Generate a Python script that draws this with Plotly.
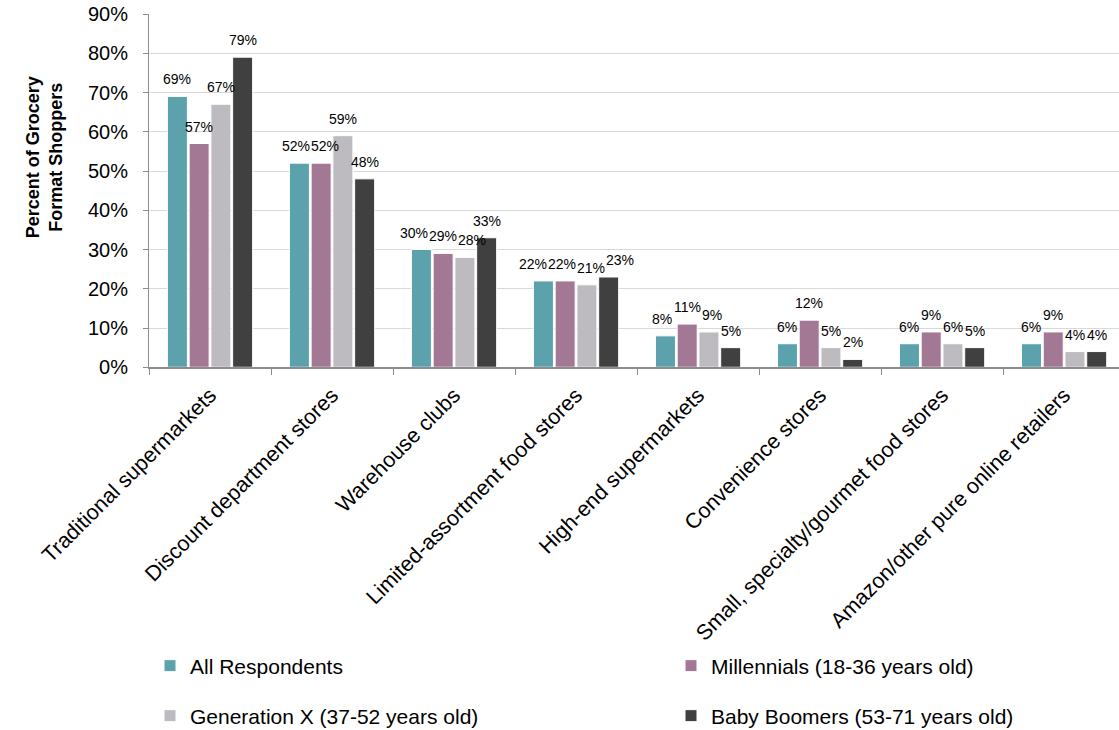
import plotly.graph_objects as go

# Grocery formats (x categories)
formats = [
    "Traditional supermarkets",
    "Discount department stores",
    "Warehouse clubs",
    "Limited-assortment food stores",
    "High-end supermarkets",
    "Convenience stores",
    "Small, specialty/gourmet food stores",
    "Amazon/other pure online retailers",
]

# Share of shoppers using each format, in percent
all_respondents = [69, 52, 30, 22, 8, 6, 6, 6]
millennials = [57, 52, 29, 22, 11, 12, 9, 9]
generation_x = [67, 59, 28, 21, 9, 5, 6, 4]
baby_boomers = [79, 48, 33, 23, 5, 2, 5, 4]

series_names = [
    "All Respondents",
    "Millennials (18-36 years old)",
    "Generation X (37-52 years old)",
    "Baby Boomers (53-71 years old)",
]
series_values = [all_respondents, millennials, generation_x, baby_boomers]
series_colors = ["#5BA2AD", "#A37895", "#BDBBC0", "#404040"]

y_ticks = [0, 10, 20, 30, 40, 50, 60, 70, 80, 90]

W, H = 1119, 730
FONT = "Liberation Sans, Arial, sans-serif"
LABEL_SIZE = 14

# plot geometry
M_L, M_R, M_T, M_B = 149, 0, 14, 361
X_RANGE = [-0.5, 7.45]
Y_RANGE = [0, 90]
BARGAP, BARGROUPGAP = 0.287, 0.08

plot_w = W - M_L - M_R
plot_h = H - M_T - M_B
cat_px = plot_w / (X_RANGE[1] - X_RANGE[0])
y_px = plot_h / (Y_RANGE[1] - Y_RANGE[0])
slot_px = cat_px * (1 - BARGAP) / len(series_values)

# one legend box per series, laid out in two columns
legend_ids = ["legend", "legend2", "legend3", "legend4"]
legend_pos = [(150, 666), (671, 666), (150, 716), (671, 716)]


def label_width(s, size):
    # approximate Arial advance widths for digits and the percent sign
    return sum((0.889 if ch == "%" else 0.556) * size for ch in s)


fig = go.Figure()
for name, vals, color, lid in zip(series_names, series_values, series_colors, legend_ids):
    fig.add_trace(go.Bar(
        x=formats,
        y=vals,
        name=name,
        marker=dict(color=color, line=dict(color="white", width=1)),
        cliponaxis=False,
        legend=lid,
    ))

# value labels above each bar; neighbours at similar heights are
# spread sideways so they do not run into one another
annotations = []
n = len(series_values)
for k, cat in enumerate(formats):
    vals = [s[k] for s in series_values]
    texts = [f"{v}%" for v in vals]
    widths = [label_width(t, LABEL_SIZE) for t in texts]
    heights = [v * y_px for v in vals]
    cx = [(i - (n - 1) / 2) * slot_px for i in range(n)]
    for _ in range(30):
        for i in range(n):
            for j in range(i + 1, n):
                if abs(heights[i] - heights[j]) < 14:
                    need = (widths[i] + widths[j]) / 2 + 1
                    d = cx[j] - cx[i]
                    if d < need:
                        push = (need - d) / 2
                        cx[i] -= push
                        cx[j] += push
    for i in range(n):
        annotations.append(dict(
            x=cat, y=vals[i], xref="x", yref="y",
            text=texts[i], showarrow=False,
            xanchor="center", yanchor="bottom",
            xshift=cx[i], yshift=7,
            font=dict(family=FONT, size=LABEL_SIZE, color="#000000"),
        ))

# y-axis title, set a little above the middle of the axis
annotations.append(dict(
    text="<b>Percent of Grocery<br>Format Shoppers</b>",
    xref="x domain", yref="y domain",
    x=(44 - M_L) / plot_w,
    y=(H - M_B - 158) / plot_h,
    xanchor="center", yanchor="middle",
    textangle=-90,
    showarrow=False,
    font=dict(family=FONT, size=18, color="#000000"),
))

layout_legends = {}
for lid, (px, py) in zip(legend_ids, legend_pos):
    layout_legends[lid] = dict(
        xref="container", yref="container",
        x=px / W, y=1 - py / H,
        xanchor="left", yanchor="middle",
        orientation="h",
        font=dict(family=FONT, size=21, color="#000000"),
        bgcolor="rgba(0,0,0,0)",
        itemwidth=30,
        borderwidth=0,
    )

fig.update_layout(
    width=W, height=H,
    margin=dict(l=M_L, r=M_R, t=M_T, b=M_B, pad=0),
    paper_bgcolor="white",
    plot_bgcolor="white",
    barmode="group",
    bargap=BARGAP,
    bargroupgap=BARGROUPGAP,
    font=dict(family=FONT, size=20, color="#000000"),
    showlegend=True,
    xaxis=dict(
        range=X_RANGE,
        tickangle=-45,
        tickfont=dict(family=FONT, size=21.5, color="#000000"),
        ticklabelstandoff=5,
        showline=True, linecolor="#8c8c8c", linewidth=2,
        ticks="outside", tickson="boundaries", ticklen=6, tickcolor="#8c8c8c",
        showgrid=False,
        fixedrange=True,
    ),
    yaxis=dict(
        range=Y_RANGE,
        tickvals=y_ticks,
        ticktext=[f"{v}%" for v in y_ticks],
        tickfont=dict(family=FONT, size=20, color="#000000"),
        ticklabelstandoff=11,
        showline=True, linecolor="#8c8c8c", linewidth=1,
        ticks="outside", ticklen=5, tickcolor="#8c8c8c",
        showgrid=True, gridcolor="#d9d9d9", gridwidth=1,
        zeroline=False,
    ),
    annotations=annotations,
    **layout_legends,
)

fig.write_html("out.html")
